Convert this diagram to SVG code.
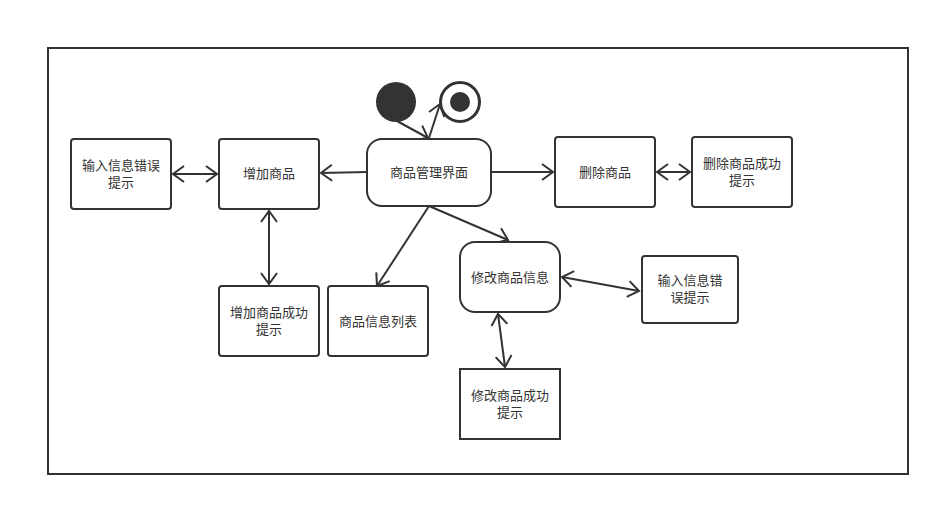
<svg xmlns="http://www.w3.org/2000/svg" width="940" height="506" viewBox="0 0 940 506">
<style>
.n{fill:#fff;stroke:#333;stroke-width:2}
.t{font-family:"Noto Sans CJK SC","Liberation Sans",sans-serif;font-size:13px;fill:#333;text-anchor:middle}
.c{stroke:#333;stroke-width:2;fill:none}
</style>
<defs>
<marker id="a" markerUnits="userSpaceOnUse" markerWidth="20" markerHeight="20" viewBox="-14 -10 16 20" refX="0" refY="0" orient="auto-start-reverse">
<path d="M-11,-8 L0,0 L-11,8" fill="none" stroke="#333" stroke-width="2"/>
</marker>
</defs>
<rect x="0" y="0" width="940" height="506" fill="#fff"/>
<rect x="48" y="48" width="860" height="426" fill="none" stroke="#333" stroke-width="2"/>
<g id="connectors">
<line class="c" x1="397" y1="121" x2="428" y2="138" marker-end="url(#a)"/>
<line class="c" x1="429" y1="138" x2="440" y2="104" marker-end="url(#a)"/>
<line class="c" x1="173" y1="174" x2="217" y2="174" marker-start="url(#a)" marker-end="url(#a)"/>
<line class="c" x1="367" y1="172" x2="321" y2="173" marker-end="url(#a)"/>
<line class="c" x1="491" y1="172" x2="553" y2="172" marker-end="url(#a)"/>
<line class="c" x1="657" y1="172" x2="690" y2="172" marker-start="url(#a)" marker-end="url(#a)"/>
<line class="c" x1="269" y1="211" x2="269" y2="284" marker-start="url(#a)" marker-end="url(#a)"/>
<line class="c" x1="429" y1="206" x2="377" y2="286" marker-end="url(#a)"/>
<line class="c" x1="429" y1="206" x2="508" y2="240" marker-end="url(#a)"/>
<line class="c" x1="562" y1="277" x2="639" y2="291" marker-start="url(#a)" marker-end="url(#a)"/>
<line class="c" x1="498" y1="314" x2="505" y2="367" marker-start="url(#a)" marker-end="url(#a)"/>
</g>
<g id="start"><circle cx="396" cy="102" r="20" fill="#333"/></g>
<g id="end"><circle cx="460" cy="102" r="19.5" fill="#fff" stroke="#333" stroke-width="3"/><circle cx="460" cy="102" r="10" fill="#333"/></g>
<g id="n1"><rect class="n" x="71" y="139" width="100" height="70" rx="3"/><text class="t" x="121" y="170">输入信息错误</text><text class="t" x="121" y="187">提示</text></g>
<g id="n2"><rect class="n" x="219" y="139" width="100" height="70" rx="3"/><text class="t" x="269" y="178">增加商品</text></g>
<g id="n3"><rect class="n" x="367" y="139" width="124" height="67" rx="15"/><text class="t" x="429" y="177">商品管理界面</text></g>
<g id="n4"><rect class="n" x="555" y="137" width="100" height="70" rx="3"/><text class="t" x="605" y="177">删除商品</text></g>
<g id="n5"><rect class="n" x="692" y="137" width="100" height="70" rx="3"/><text class="t" x="742" y="168">删除商品成功</text><text class="t" x="742" y="185">提示</text></g>
<g id="n6"><rect class="n" x="219" y="286" width="100" height="70" rx="3"/><text class="t" x="269" y="317">增加商品成功</text><text class="t" x="269" y="334">提示</text></g>
<g id="n7"><rect class="n" x="328" y="286" width="100" height="70" rx="3"/><text class="t" x="378" y="326">商品信息列表</text></g>
<g id="n8"><rect class="n" x="460" y="242" width="100" height="70" rx="15"/><text class="t" x="510" y="282">修改商品信息</text></g>
<g id="n9"><rect class="n" x="642" y="256" width="96" height="67" rx="3"/><text class="t" x="690" y="285">输入信息错</text><text class="t" x="690" y="302">误提示</text></g>
<g id="n10"><rect class="n" x="460" y="369" width="100" height="70"/><text class="t" x="510" y="400">修改商品成功</text><text class="t" x="510" y="417">提示</text></g>
</svg>
